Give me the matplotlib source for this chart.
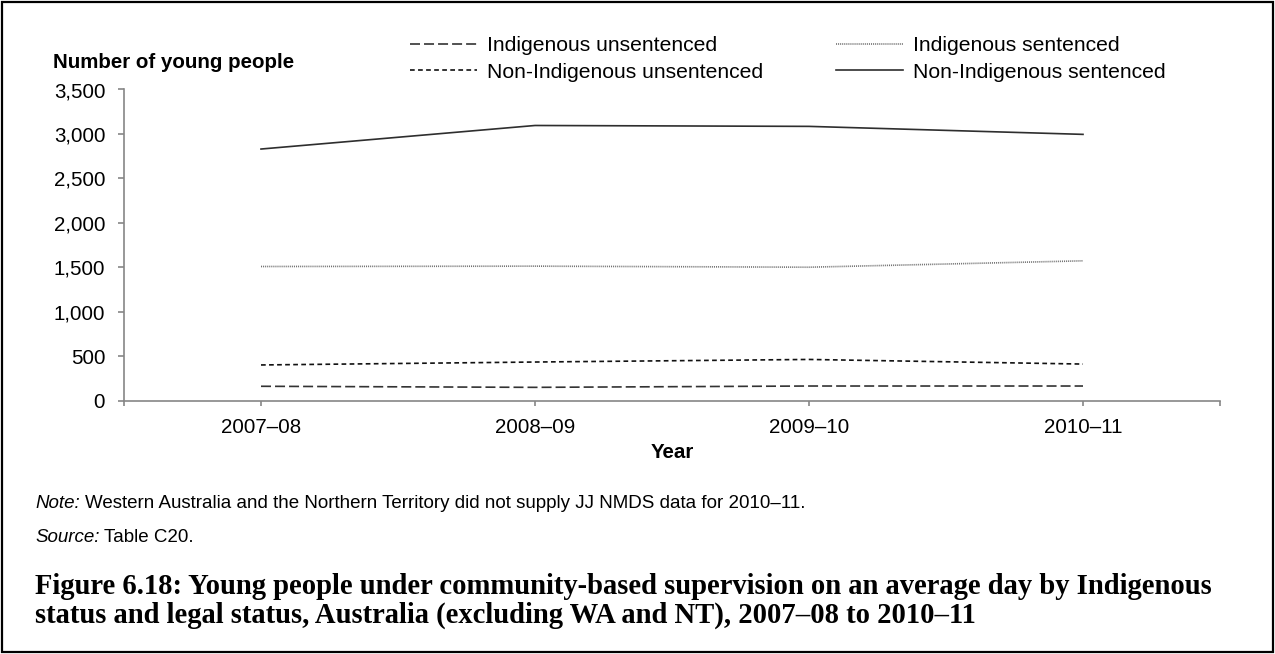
import matplotlib
matplotlib.use('Agg')
import matplotlib.pyplot as plt
from matplotlib.patches import Rectangle

plt.rcParams['font.family'] = ['Liberation Sans', 'DejaVu Sans']
plt.rcParams['lines.scale_dashes'] = False

years = ['2007–08', '2008–09', '2009–10', '2010–11']
indig_unsent = [160, 148, 163, 163]
nonindig_unsent = [400, 433, 462, 410]
indig_sent = [1508, 1512, 1500, 1572]
nonindig_sent = [2830, 3095, 3085, 2995]
yticks = [0, 500, 1000, 1500, 2000, 2500, 3000, 3500]

W, H = 1275, 654
fig = plt.figure(figsize=(W / 100, H / 100), dpi=100)
ax = fig.add_axes([124 / W, 1 - 400.5 / H, (1220 - 124) / W, (400.5 - 89.5) / H])

x = range(len(years))
l_iu, = ax.plot(x, indig_unsent, color='#333333', lw=1.2, linestyle=(0, (7.2, 2.9)),
                label='Indigenous unsentenced')
l_niu, = ax.plot(x, nonindig_unsent, color='#111111', lw=1.2, linestyle=(0, (3.4, 2.4)),
                 label='Non-Indigenous unsentenced')
l_is, = ax.plot(x, indig_sent, color='#6e6e6e', lw=1.2, linestyle=(0, (0.7, 0.7)),
                label='Indigenous sentenced')
l_nis, = ax.plot(x, nonindig_sent, color='#2e2e2e', lw=1.2,
                 label='Non-Indigenous sentenced')

axis_col = '#868686'
ax.set_xlim(-0.5, len(years) - 0.5)
ax.set_ylim(0, 3500)
ax.set_yticks(yticks)
ax.set_yticklabels([f'{v:,}' for v in yticks])
ax.set_xticks([-0.5] + list(x) + [len(years) - 0.5])
ax.set_xticklabels([''] + years + [''])
for s in ['top', 'right']:
    ax.spines[s].set_visible(False)
for s in ['left', 'bottom']:
    ax.spines[s].set_color(axis_col)
    ax.spines[s].set_linewidth(1.2)
ax.tick_params(axis='y', direction='out', length=4.5, width=1.2, color=axis_col,
               labelsize=14.8, pad=9, labelcolor='black')
ax.tick_params(axis='x', direction='out', length=3.5, width=1.2, color=axis_col,
               labelsize=14.8, pad=9, labelcolor='black')

fig.text(53 / W, 1 - 62 / H, 'Number of young people', fontsize=14.8,
         fontweight='bold', ha='left', va='center')
fig.text(672 / W, 1 - 452 / H, 'Year', fontsize=14.8, fontweight='bold',
         ha='center', va='center')

leg = fig.legend(handles=[l_iu, l_niu, l_is, l_nis], ncol=2, loc='upper left',
                 bbox_to_anchor=(410 / W, 1 - 36 / H), frameon=False, fontsize=15.2,
                 handlelength=3.17, handletextpad=0.47, columnspacing=3.46,
                 labelspacing=0.36, borderpad=0, borderaxespad=0)

# notes: italic lead-in followed by regular text
note_t = fig.text(35 / W, 1 - 503 / H, 'Note:', fontsize=13.5, style='italic',
                  ha='left', va='center')
ax.annotate('Western Australia and the Northern Territory did not supply JJ NMDS data for 2010–11.',
            xy=(1, 0.5), xycoords=note_t, xytext=(3.5, 0), textcoords='offset points',
            fontsize=13.5, ha='left', va='center', annotation_clip=False)
src_t = fig.text(35 / W, 1 - 538 / H, 'Source:', fontsize=13.5, style='italic',
                 ha='left', va='center')
ax.annotate('Table C20.', xy=(1, 0.5), xycoords=src_t, xytext=(3.5, 0),
            textcoords='offset points', fontsize=13.5, ha='left', va='center',
            annotation_clip=False)

fig.text(35 / W, 1 - 586 / H,
         'Figure 6.18: Young people under community-based supervision on an average day by Indigenous',
         fontsize=20.6, fontweight='bold', family='Liberation Serif', ha='left', va='center')
fig.text(35 / W, 1 - 615 / H,
         'status and legal status, Australia (excluding WA and NT), 2007–08 to 2010–11',
         fontsize=20.6, fontweight='bold', family='Liberation Serif', ha='left', va='center')

fig.patches.append(Rectangle((2 / W, 2 / H), 1 - 4 / W, 1 - 4 / H, transform=fig.transFigure,
                             fill=False, edgecolor='black', linewidth=1.6))

fig.savefig('out.png', dpi=100)
